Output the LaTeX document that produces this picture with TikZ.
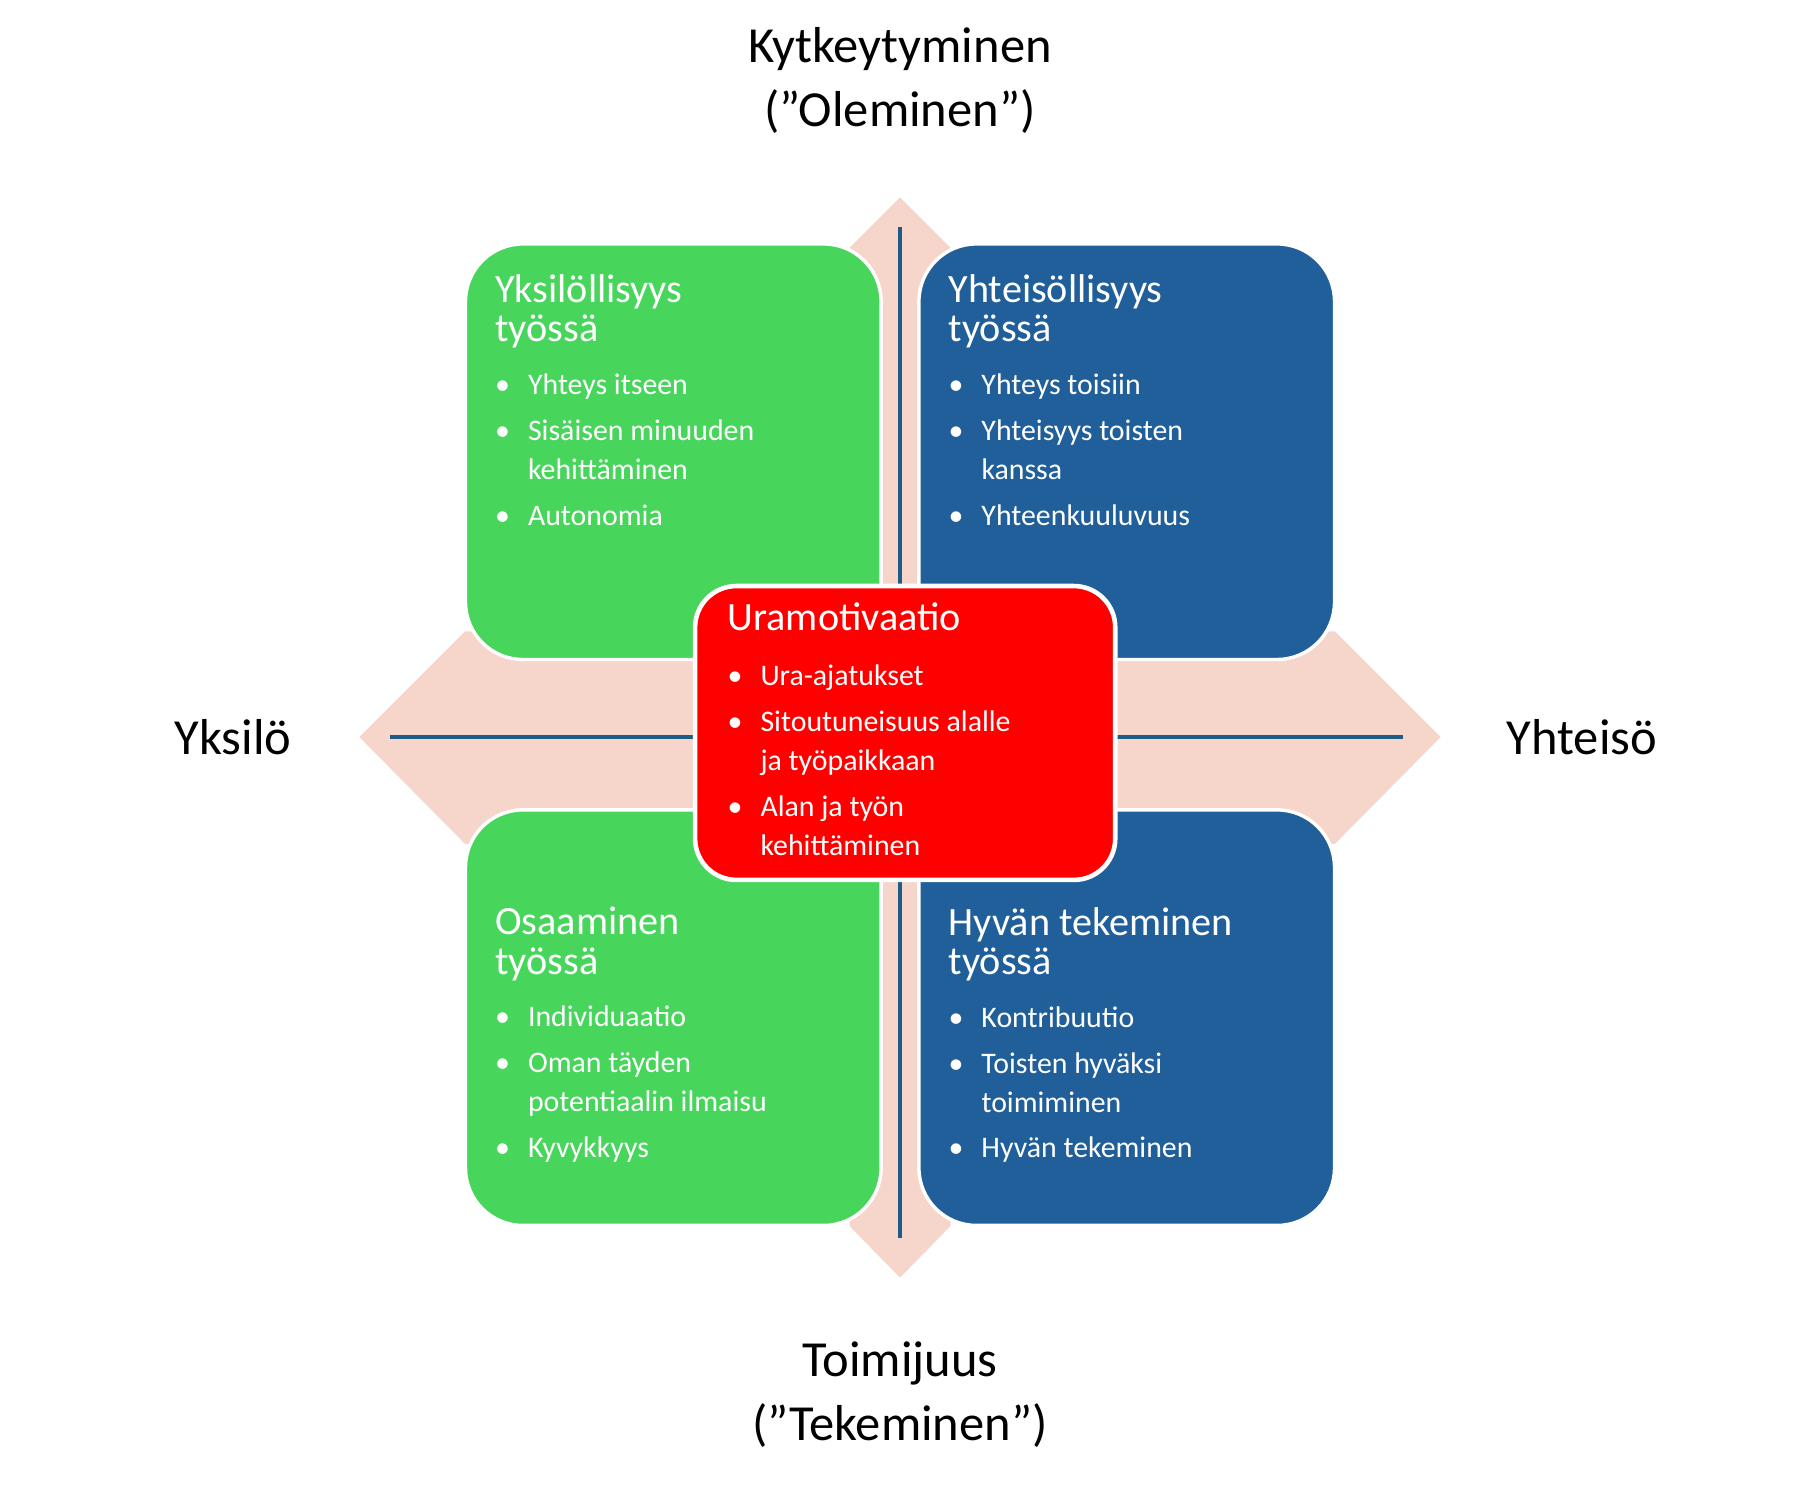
\documentclass[tikz,border=0pt]{standalone}
\usepackage{fontspec}
\setmainfont{Carlito}
\usetikzlibrary{positioning}
\definecolor{qgreen}{HTML}{48D55C}
\definecolor{qblue}{HTML}{215F9A}
\definecolor{qred}{HTML}{FF0000}
\definecolor{qpink}{HTML}{F6D5CB}
\definecolor{qline}{HTML}{1E5B86}
\newcommand{\bul}{\makebox[1.1em][l]{\textbullet}}
\newcommand{\ind}{\hspace*{1.1em}}
\newcommand{\ttl}[1]{{\fontsize{17.5}{23}\selectfont #1}}
\begin{document}
\begin{tikzpicture}[x=0.5pt, y=-0.5pt,
	box/.style={draw=white, line width=1.5pt, rounded corners=25pt, minimum width=181pt, minimum height=181pt, inner sep=0pt},
	boxtext/.style={text=white, align=left, anchor=north west, inner sep=0pt, font=\fontsize{13}{17}\selectfont},
	axis/.style={font=\fontsize{22}{28}\selectfont, align=center}]
	\useasboundingbox (0,0) rectangle (1568,1300);
	% pink cross
	\fill [qpink] (313,642) -- (405,550) -- (1163,550) -- (1255,642) -- (1163,735) -- (405,735) -- cycle;
	\fill [qpink] (784,172) -- (828,216) -- (828,1068) -- (784,1113) -- (740,1068) -- (740,216) -- cycle;
	\coordinate (t) at (784,198);
	\coordinate (b) at (784,1078);
	\coordinate (l) at (340,642);
	\coordinate (r) at (1222,642);
	\draw [qline, line width=2pt] (t) -- (b);
	\draw [qline, line width=2pt] (l) -- (r);
	% quadrants
	\node [box, fill=qgreen] (ul) at (586.5,393.5) {};
	\node [box, fill=qblue] (ur) at (981.5,393.5) {};
	\node [box, fill=qgreen] (ll) at (586.5,886.5) {};
	\node [box, fill=qblue] (lr) at (981.5,886.5) {};
	\node [boxtext] at ([xshift=13.5pt, yshift=-14pt]ul.north west) {\ttl{Yksilöllisyys}\\ \ttl{työssä}\\[6pt]
		\bul Yhteys itseen\\[3pt] \bul Sisäisen minuuden\\ \ind kehittäminen\\[3pt] \bul Autonomia};
	\node [boxtext] at ([xshift=13.5pt, yshift=-14pt]ur.north west) {\ttl{Yhteisöllisyys}\\ \ttl{työssä}\\[6pt]
		\bul Yhteys toisiin\\[3pt] \bul Yhteisyys toisten\\ \ind kanssa\\[3pt] \bul Yhteenkuuluvuus};
	\node [boxtext] at ([xshift=13.5pt, yshift=-43pt]ll.north west) {\ttl{Osaaminen}\\ \ttl{työssä}\\[6pt]
		\bul Individuaatio\\[3pt] \bul Oman täyden\\ \ind potentiaalin ilmaisu\\[3pt] \bul Kyvykkyys};
	\node [boxtext] at ([xshift=13.5pt, yshift=-43pt]lr.north west) {\ttl{Hyvän tekeminen}\\ \ttl{työssä}\\[6pt]
		\bul Kontribuutio\\[3pt] \bul Toisten hyväksi\\ \ind toimiminen\\[3pt] \bul Hyvän tekeminen};
	% centre
	\node [box, fill=qred, line width=2pt, rounded corners=18pt, minimum width=183pt, minimum height=128pt] (c) at (788.5,638.5) {};
	\node [boxtext] at ([xshift=15pt, yshift=-8pt]c.north west) {\ttl{Uramotivaatio}\\[7pt]
		\bul Ura-ajatukset\\[3pt] \bul Sitoutuneisuus alalle\\ \ind ja työpaikkaan\\[3pt] \bul Alan ja työn\\ \ind kehittäminen};
	% axis labels
	\node [axis] (top) at (784,70) {Kytkeytyminen\\(”Oleminen”)};
	\node [axis] (bot) at (784,1215) {Toimijuus\\(”Tekeminen”)};
	\node [axis] (left) at (203,642) {Yksilö};
	\node [axis] (right) at (1378,642) {Yhteisö};
\end{tikzpicture}
\end{document}
